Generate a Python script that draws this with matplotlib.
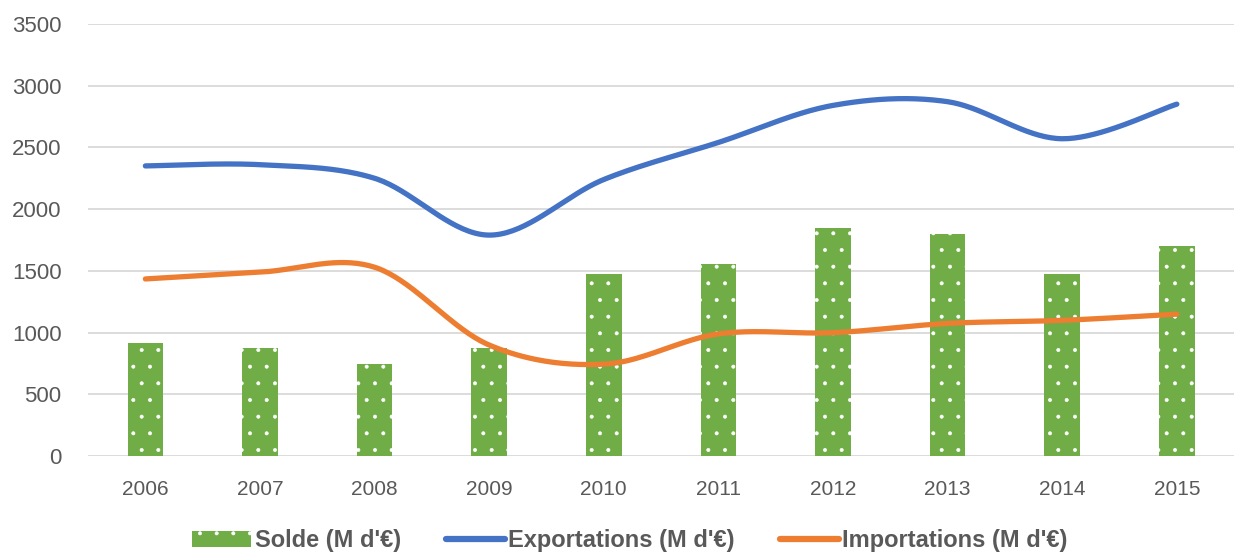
import numpy as np
import matplotlib.pyplot as plt
from matplotlib.patches import Patch
from matplotlib.lines import Line2D

# === Data ===
years = ["2006", "2007", "2008", "2009", "2010", "2011", "2012", "2013", "2014", "2015"]
solde = [915, 875, 745, 875, 1475, 1555, 1850, 1800, 1475, 1700]
exportations = [2350, 2360, 2250, 1790, 2240, 2540, 2840, 2870, 2570, 2850]
importations = [1435, 1490, 1530, 900, 745, 990, 1000, 1075, 1100, 1150]

# === Colors ===
green = "#70AD47"
blue = "#4472C4"
orange = "#ED7D31"
grid_color = "#D9D9D9"
text_color = "#595959"


def smooth(xs, ys, n=40):
    # Excel-style smoothed line: cubic Bezier with Catmull-Rom control points
    xs = np.asarray(xs, float)
    ys = np.asarray(ys, float)
    px, py = [], []
    for i in range(len(xs) - 1):
        x0, y0 = xs[max(i - 1, 0)], ys[max(i - 1, 0)]
        x1, y1 = xs[i], ys[i]
        x2, y2 = xs[i + 1], ys[i + 1]
        x3, y3 = xs[min(i + 2, len(xs) - 1)], ys[min(i + 2, len(xs) - 1)]
        c1x, c1y = x1 + (x2 - x0) / 6, y1 + (y2 - y0) / 6
        c2x, c2y = x2 - (x3 - x1) / 6, y2 - (y3 - y1) / 6
        t = np.linspace(0, 1, n)
        px.append((1 - t) ** 3 * x1 + 3 * (1 - t) ** 2 * t * c1x + 3 * (1 - t) * t ** 2 * c2x + t ** 3 * x2)
        py.append((1 - t) ** 3 * y1 + 3 * (1 - t) ** 2 * t * c1y + 3 * (1 - t) * t ** 2 * c2y + t ** 3 * y2)
    return np.concatenate(px), np.concatenate(py)


plt.rcParams['font.family'] = ['Liberation Sans Narrow', 'Liberation Sans', 'DejaVu Sans']
plt.rcParams['hatch.color'] = 'white'
plt.rcParams['hatch.linewidth'] = 0.4

fig = plt.figure(figsize=(12.35, 5.55), dpi=100)
ax = fig.add_axes([0.0713, 0.178, 0.928, 0.779])

x = np.arange(len(years))

# === Bars ===
ax.bar(x, solde, width=0.31, color=green, linewidth=0, zorder=2)
ax.bar(x, solde, width=0.31, facecolor='none', edgecolor='white', linewidth=0, hatch='.', zorder=2)

# === Smoothed lines ===
sx, sy = smooth(x, exportations)
ax.plot(sx, sy, color=blue, lw=3.8, solid_capstyle='round', zorder=3)
sx, sy = smooth(x, importations)
ax.plot(sx, sy, color=orange, lw=3.8, solid_capstyle='round', zorder=3)

# === Axes ===
ax.set_xlim(-0.5, len(years) - 0.5)
ax.set_ylim(0, 3500)
ax.set_yticks(range(0, 3501, 500))
ax.set_xticks(x)
ax.set_xticklabels(years)
ax.yaxis.grid(True, color=grid_color, lw=1.3, zorder=0)
ax.set_axisbelow(True)
for s in ax.spines.values():
    s.set_visible(False)
ax.tick_params(axis='both', length=0, colors=text_color)
ax.tick_params(axis='y', pad=19, labelsize=16)
ax.tick_params(axis='x', pad=17, labelsize=15)

# === Legend ===
handles = [
    Patch(facecolor=green, edgecolor='white', linewidth=0, hatch='.', label="Solde (M d'€)"),
    Line2D([0], [0], color=blue, lw=4.5, solid_capstyle='round', label="Exportations (M d'€)"),
    Line2D([0], [0], color=orange, lw=4.5, solid_capstyle='round', label="Importations (M d'€)"),
]
leg = fig.legend(handles=handles, loc='center', bbox_to_anchor=(0.51, 0.026), ncol=3,
                 frameon=False, handlelength=2.5, handletextpad=0.15, columnspacing=1.9,
                 borderpad=0.1, prop={'size': 17, 'weight': 'bold'})
for t in leg.get_texts():
    t.set_color(text_color)

fig.savefig("out.png", dpi=100)
